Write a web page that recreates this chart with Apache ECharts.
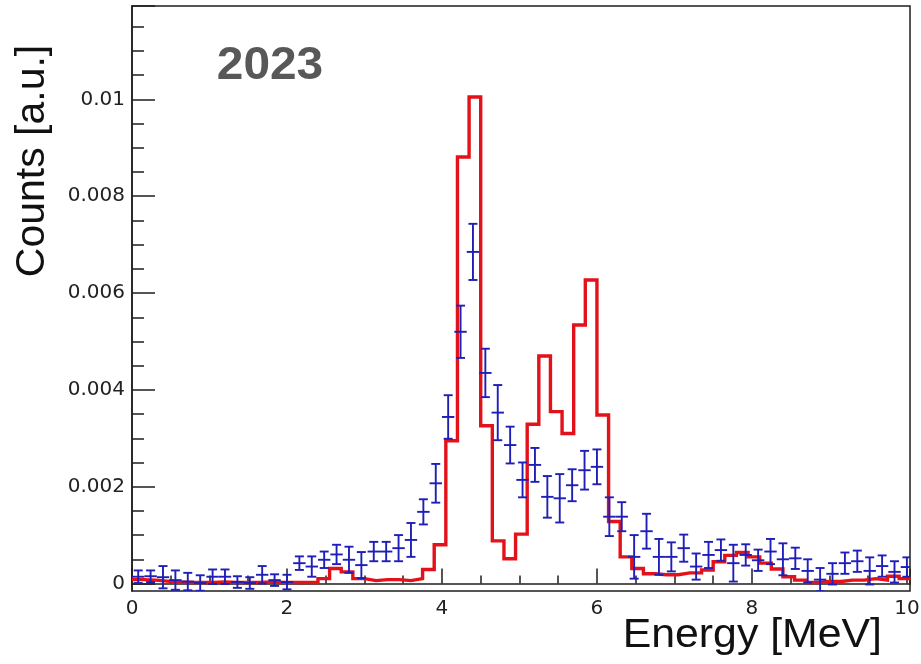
<!DOCTYPE html>
<html>
<head>
<meta charset="utf-8">
<script src="https://cdn.jsdelivr.net/npm/echarts@6/dist/echarts.min.js"></script>
<style>html,body{margin:0;padding:0;background:#fff}#c{width:921px;height:664px}</style>
</head>
<body>
<div id="c"></div>
<script>
// ---------------- data ----------------
// Simulation histogram (red), bins of 0.15 MeV starting at 0
const redBinWidth = 0.15;
const redValues = [
  0.00008, 0.00007, 0.00005, 0.00003, 0.00002, 0.00002, 0.00002, 0.00003, 0.00002, 0.00002,
  0.00002, 0.00003, 0.00002, 0.00002, 0.00002, 0.00002, 0.00010, 0.00031, 0.00024, 0.00010,
  0.00006, 0.00008, 0.00008, 0.00006, 0.00010, 0.00029, 0.00080, 0.00295, 0.00881, 0.01005,
  0.00326, 0.00088, 0.00051, 0.00102, 0.00329, 0.00470, 0.00355, 0.00310, 0.00534, 0.00627,
  0.00348, 0.00128, 0.00055, 0.00031, 0.00020, 0.00018, 0.00018, 0.00022, 0.00022, 0.00028,
  0.00045, 0.00058, 0.00064, 0.00055, 0.00042, 0.00030, 0.00014, 0.00007, 0.00002, 0.00004,
  0.00004, 0.00007, 0.00007, 0.00010, 0.00007, 0.00015, 0.00010
];
// Measured data 2023 (blue), bins of 0.16 MeV starting at 0
const blueBinWidth = 0.16;
const blueValues = [
  0.00014, 0.00015, 0.00013, 0.00007, 0.00004, 0.00001, 0.00014, 0.00014, 0.00003, 0.00001,
  0.00018, 0.00007, 0.00003, 0.00042, 0.00035, 0.00049, 0.00060, 0.00049, 0.00038, 0.00066,
  0.00066, 0.00073, 0.00090, 0.00148, 0.00207, 0.00344, 0.00520, 0.00685, 0.00435, 0.00353,
  0.00286, 0.00214, 0.00245, 0.00179, 0.00176, 0.00203, 0.00234, 0.00241, 0.00138, 0.00138,
  0.00055, 0.00108, 0.00055, 0.00055, 0.00073, 0.00035, 0.00059, 0.00069, 0.00042, 0.00059,
  0.00048, 0.00066, 0.00050, 0.00052, 0.00026, 0.00008, 0.00020, 0.00042, 0.00046, 0.00026,
  0.00036, 0.00024, 0.00034
];
const blueErrors = [
  0.00013, 0.00012, 0.00023, 0.00020, 0.00018, 0.00016, 0.00015, 0.00015, 0.00012, 0.00012,
  0.00018, 0.00012, 0.00015, 0.00014, 0.00021, 0.00017, 0.00020, 0.00027, 0.00027, 0.00020,
  0.00020, 0.00027, 0.00035, 0.00026, 0.00040, 0.00045, 0.00054, 0.00058, 0.00050, 0.00057,
  0.00038, 0.00036, 0.00035, 0.00043, 0.00050, 0.00033, 0.00040, 0.00036, 0.00040, 0.00030,
  0.00045, 0.00036, 0.00037, 0.00030, 0.00028, 0.00027, 0.00027, 0.00022, 0.00038, 0.00022,
  0.00022, 0.00026, 0.00033, 0.00022, 0.00024, 0.00024, 0.00022, 0.00022, 0.00022, 0.00028,
  0.00022, 0.00022, 0.00020
];
// axes
const xMin = 0, xMax = 10.04, xTickStep = 2;
const xTickLabels = ['0', '2', '4', '6', '8', '10'];
const yTickStep = 0.002;
const yTop = 0.01193;
const yBottom = -0.000155;
const yTickLabels = ['0', '0.002', '0.004', '0.006', '0.008', '0.01'];
const yTitle = 'Counts [a.u.]';
const xTitle = 'Energy [MeV]';
const yearLabel = '2023';

// ---------------- build ----------------
const redData = redValues.map((v, i) => [+(i * redBinWidth).toFixed(4), v]);
redData.push([+(redValues.length * redBinWidth).toFixed(4), redValues[redValues.length - 1]]);
const blueData = blueValues.map((v, i) => [+((i + 0.5) * blueBinWidth).toFixed(4), v, blueErrors[i]]);

const RED = '#e3121a';
const BLUE = '#1f1fb8';
const AXIS = '#1e1e1e';
const tickFont = 'DejaVu Sans';

function labelFrom(list, step) {
  return (v) => {
    const i = Math.round(v / step);
    return (Math.abs(v - i * step) < 1e-9 && list[i] !== undefined) ? list[i] : '';
  };
}

function renderBlue(params, api) {
  const x = api.value(0), y = api.value(1), e = api.value(2);
  const pL = api.coord([x - blueBinWidth / 2, y]);
  const pR = api.coord([x + blueBinWidth / 2, y]);
  const pT = api.coord([x, y + e]);
  const pB = api.coord([x, y - e]);
  const cap = 4.5;
  const st = { stroke: BLUE, lineWidth: 1.9, fill: null };
  return {
    type: 'group',
    children: [
      { type: 'line', shape: { x1: pL[0], y1: pL[1], x2: pR[0], y2: pR[1] }, style: st },
      { type: 'line', shape: { x1: pT[0], y1: pT[1], x2: pB[0], y2: pB[1] }, style: st },
      { type: 'line', shape: { x1: pT[0] - cap, y1: pT[1], x2: pT[0] + cap, y2: pT[1] }, style: st },
      { type: 'line', shape: { x1: pB[0] - cap, y1: pB[1], x2: pB[0] + cap, y2: pB[1] }, style: st }
    ]
  };
}

const chart = echarts.init(document.getElementById('c'), null, { renderer: 'canvas' });
chart.setOption({
  animation: false,
  backgroundColor: '#ffffff',
  grid: [
    { left: 132, right: 11, top: 6, bottom: 73, show: true, borderColor: AXIS, borderWidth: 1.5,
      backgroundColor: 'transparent', outerBoundsMode: 'none', containLabel: false },
    { left: 132, right: 11, top: 6, bottom: 80.5, show: false, outerBoundsMode: 'none', containLabel: false }
  ],
  xAxis: [
    {
      gridIndex: 0, type: 'value', min: xMin, max: xMax, interval: xTickStep,
      axisLine: { show: true, lineStyle: { color: AXIS, width: 1.5 } },
      axisTick: { show: true, inside: true, length: 15, lineStyle: { color: AXIS, width: 1.5 } },
      minorTick: { show: true, splitNumber: 4, length: 8, lineStyle: { color: AXIS, width: 1.5 } },
      splitLine: { show: false }, minorSplitLine: { show: false },
      axisLabel: { show: true, margin: 8, color: '#222', fontSize: 20, fontFamily: tickFont,
        showMinLabel: true, showMaxLabel: false, hideOverlap: false,
        formatter: labelFrom(xTickLabels, xTickStep) }
    },
    {
      gridIndex: 1, type: 'value', min: xMin, max: xMax, show: false
    }
  ],
  yAxis: [
    {
      gridIndex: 0, type: 'value', min: yBottom, max: yTop,
      axisLine: { show: true, lineStyle: { color: AXIS, width: 1.5 } },
      axisTick: { show: false }, axisLabel: { show: false }, splitLine: { show: false }
    },
    {
      gridIndex: 1, type: 'value', min: 0, max: yTop, interval: yTickStep,
      axisLine: { show: false },
      axisTick: { show: true, inside: true, length: 23, lineStyle: { color: AXIS, width: 1.5 } },
      minorTick: { show: true, splitNumber: 4, length: 12, lineStyle: { color: AXIS, width: 1.5 } },
      splitLine: { show: false }, minorSplitLine: { show: false },
      axisLabel: {
        show: true, margin: 7, color: '#222', fontSize: 20, fontFamily: tickFont,
        showMaxLabel: false, hideOverlap: false,
        formatter: labelFrom(yTickLabels, yTickStep)
      }
    }
  ],
  series: [
    {
      type: 'line', name: 'simulation', xAxisIndex: 0, yAxisIndex: 0,
      data: redData, step: 'end', showSymbol: false, symbol: 'none',
      lineStyle: { color: RED, width: 3.4, join: 'miter' }, clip: true, z: 2
    },
    {
      type: 'custom', name: 'data 2023', xAxisIndex: 0, yAxisIndex: 0,
      data: blueData, renderItem: renderBlue, clip: true,
      encode: { x: 0, y: 1 }, z: 3
    }
  ],
  graphic: [
    { type: 'text', x: 33, y: 161, rotation: Math.PI / 2,
      style: { text: yTitle, fill: '#111', font: '41px "Liberation Sans", Arial, sans-serif',
        align: 'center', verticalAlign: 'middle' } },
    { type: 'text', x: 882, y: 636, scaleX: 1.07,
      style: { text: xTitle, fill: '#111', font: '40px "Liberation Sans", Arial, sans-serif',
        align: 'right', verticalAlign: 'middle' } },
    { type: 'text', x: 270, y: 66, scaleX: 1.04,
      style: { text: yearLabel, fill: '#585858', font: 'bold 46px "Liberation Sans", Arial, sans-serif',
        align: 'center', verticalAlign: 'middle' } }
  ]
});
</script>
</body>
</html>
